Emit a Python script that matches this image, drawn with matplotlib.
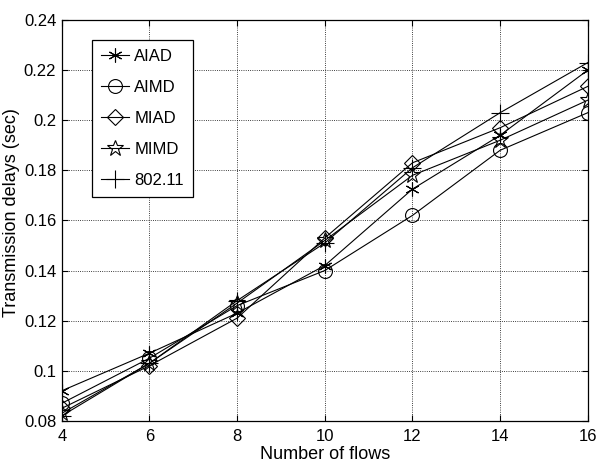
import matplotlib as mpl; mpl.use('Agg')
import matplotlib.pyplot as plt

plt.rcParams['font.family'] = ['Liberation Sans', 'DejaVu Sans']

flows = [4, 6, 8, 10, 12, 14, 16]
aiad = [0.092, 0.107, 0.123, 0.142, 0.1725, 0.194, 0.220]
aimd = [0.087, 0.105, 0.126, 0.140, 0.162, 0.188, 0.203]
miad = [0.085, 0.102, 0.121, 0.153, 0.183, 0.197, 0.2135]
mimd = [0.083, 0.103, 0.127, 0.152, 0.178, 0.192, 0.208]
ieee = [0.082, 0.103, 0.128, 0.151, 0.181, 0.203, 0.223]

fig = plt.figure(figsize=(6.06, 4.65), dpi=100)
ax = fig.add_axes([0.102, 0.095, 0.868, 0.862])

kw = dict(color='k', lw=0.8, mfc='none', mec='k', mew=0.8)
ax.plot(flows, aiad, marker=(6, 2, 0), ms=10, label='AIAD', **kw)
ax.plot(flows, aimd, marker='o', ms=10, label='AIMD', **kw)
ax.plot(flows, miad, marker='D', ms=8, label='MIAD', **kw)
ax.plot(flows, mimd, marker='*', ms=12, label='MIMD', **kw)
ax.plot(flows, ieee, marker='+', ms=13, label='802.11', **kw)

ax.set_xlim(4, 16)
ax.set_ylim(0.08, 0.24)
ax.set_xticks(flows)
ax.set_yticks([0.08, 0.1, 0.12, 0.14, 0.16, 0.18, 0.2, 0.22, 0.24])
ax.set_yticklabels(['0.08', '0.1', '0.12', '0.14', '0.16', '0.18', '0.2', '0.22', '0.24'])
ax.tick_params(direction='in', labelsize=12, length=4, width=0.8, top=True, right=True)
ax.tick_params(axis='x', pad=6)
ax.tick_params(axis='y', pad=4)
ax.grid(True, ls=':', color='k', lw=0.6)
for s in ax.spines.values():
    s.set_linewidth(0.9)

ax.set_xlabel('Number of flows', fontsize=13, labelpad=1)
ax.set_ylabel('Transmission delays (sec)', fontsize=13)
ax.yaxis.set_label_coords(-0.08, 0.52)

leg = ax.legend(loc='upper left', bbox_to_anchor=(0.057, 0.95), fontsize=12,
                fancybox=False, edgecolor='k', framealpha=1, handlelength=1.7,
                labelspacing=0.95, borderpad=0.55, handletextpad=0.3, borderaxespad=0)
leg.get_frame().set_linewidth(0.9)

fig.savefig('out.png', dpi=100)
